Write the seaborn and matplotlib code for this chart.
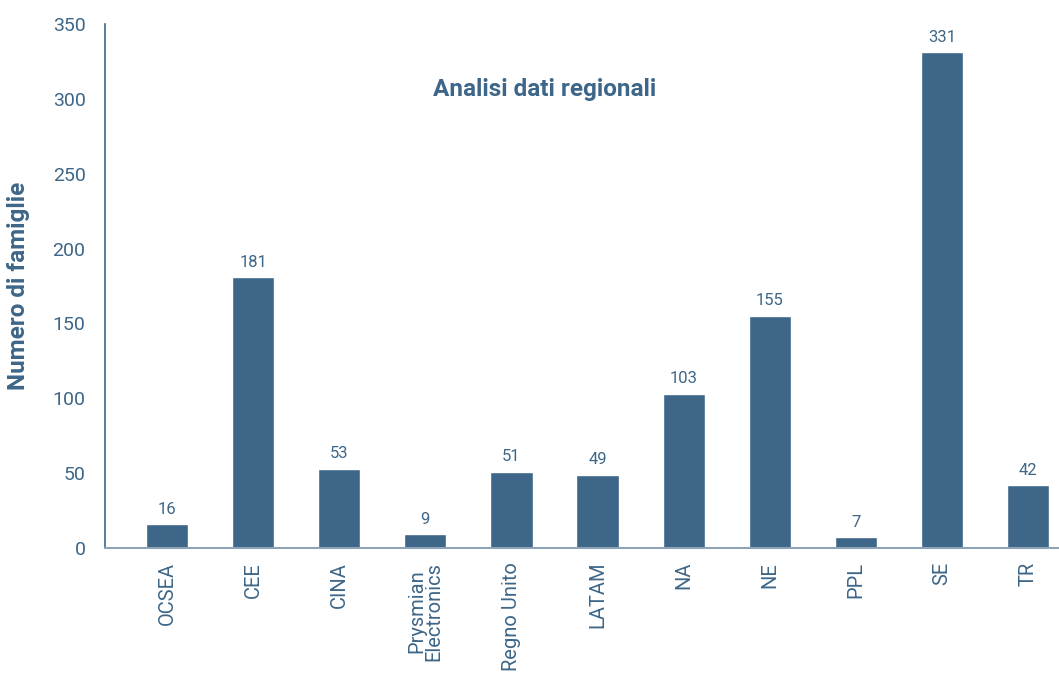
import matplotlib
matplotlib.use("Agg")
import matplotlib.pyplot as plt
import seaborn as sns
import pandas as pd

regions = ["OCSEA", "CEE", "CINA", "Prysmian\nElectronics", "Regno Unito",
           "LATAM", "NA", "NE", "PPL", "SE", "TR"]
families = [16, 181, 53, 9, 51, 49, 103, 155, 7, 331, 42]
y_ticks = [0, 50, 100, 150, 200, 250, 300, 350]

blue = "#3d6688"
axis_grey = "#8ea3b8"

sns.set_theme(style="white")
plt.rcParams["font.family"] = ["Roboto", "DejaVu Sans"]

df = pd.DataFrame({"regione": regions, "famiglie": families})

fig = plt.figure(figsize=(10.59, 6.77), dpi=100)
ax = fig.add_axes([0.0992, 0.1906, 0.9008, 0.7739])

sns.barplot(data=df, x="regione", y="famiglie", color=blue, width=0.49,
            saturation=1, ax=ax)

for i, v in enumerate(families):
    ax.text(i, v + 5, str(v), ha="center", va="bottom", fontsize=12, color=blue)

ax.set_xlim(-0.72, 10.36)
ax.set_ylim(0, 350)
ax.set_yticks(y_ticks)
ax.set_yticklabels([str(t) for t in y_ticks], fontsize=14, color=blue)
ax.set_xticks(range(len(regions)))
ax.set_xticklabels(regions, rotation=90, fontsize=14.5, color=blue,
                   linespacing=0.9, va="top")
ax.tick_params(axis="x", length=0, pad=10)
ax.tick_params(axis="y", length=0, pad=14)

ax.set_xlabel("")
ax.set_ylabel("Numero di famiglie", fontsize=17.5, fontweight="bold", color=blue,
              labelpad=16)

for side in ["top", "right"]:
    ax.spines[side].set_visible(False)
ax.spines["left"].set_color(blue)
ax.spines["left"].set_linewidth(1.2)
ax.spines["bottom"].set_color(axis_grey)
ax.spines["bottom"].set_linewidth(1.5)

ax.text(0.461, 0.876, "Analisi dati regionali", transform=ax.transAxes,
        ha="center", va="center", fontsize=17.5, fontweight="bold", color=blue)

fig.savefig("out.png", dpi=100)
